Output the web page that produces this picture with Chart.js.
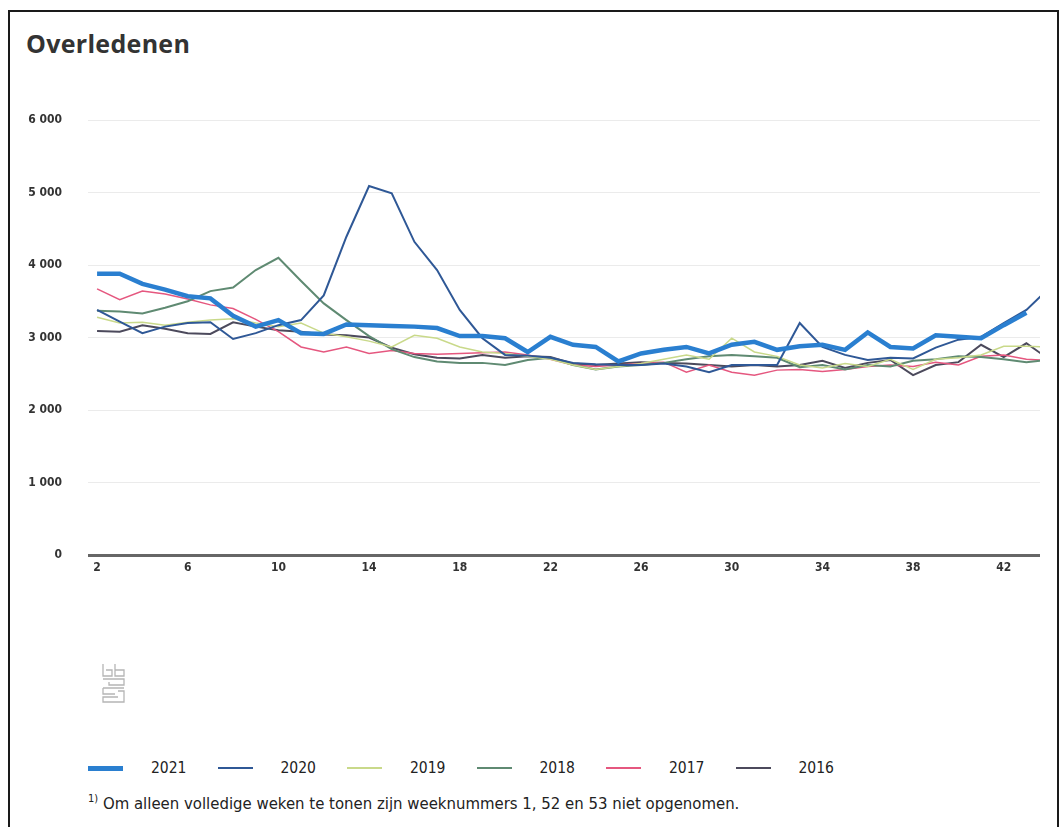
<!DOCTYPE html>
<html>
<head>
<meta charset="utf-8">
<script src="https://cdn.jsdelivr.net/npm/chart.js@4/dist/chart.umd.min.js"></script>
<style>
    html, body {
        margin: 0;
        padding: 0;
        background: #fff;
        width: 1062px;
        height: 827px;
        overflow: hidden;
    }
    #frame {
        position: absolute;
        left: 8px;
        top: 10px;
        width: 1047px;
        height: 840px;
        border: 2px solid #1a1a1a;
    }
    #title {
        position: absolute;
        left: 26px;
        top: 26px;
        font-family: "Open Sans", sans-serif;
        font-weight: 700;
        font-size: 25px;
        color: #333;
        letter-spacing: 0.3px;
    }
    #wrap {
        position: absolute;
        left: 0;
        top: 0;
        width: 1062px;
        height: 600px;
    }
    #logo {
        position: absolute;
        left: 100px;
        top: 662px;
    }
    #legend .item {
        position: absolute;
        top: 758px;
        height: 20px;
        display: flex;
        align-items: center;
        font-family: "DejaVu Sans Condensed", sans-serif;
        font-size: 15.5px;
        color: #222;
    }
    #legend .swatch {
        width: 35px;
        margin-right: 28px;
    }
    #note {
        position: absolute;
        left: 88px;
        top: 792px;
        font-family: "DejaVu Sans Condensed", sans-serif;
        font-size: 16.6px;
        color: #222;
        white-space: nowrap;
    }
    #note sup {
        font-size: 11px;
    }
</style>
</head>
<body>
<div id="frame"></div>
<div id="title">Overledenen</div>
<div id="wrap"><canvas id="deathsChart"></canvas></div>
<svg id="logo" width="30" height="42" viewBox="0 0 30 42" fill="none" stroke="#b5b5b5" stroke-width="1.3">
    <path d="M3 2v12h9V8H6M15 2v12h9V8h-9M3 17h21v6H9v-3M3 26h21M3 26v6h12M18 29h6v11H3v-5h15"/>
</svg>
<div id="legend"></div>
<div id="note"><sup>1)</sup> Om alleen volledige weken te tonen zijn weeknummers 1, 52 en 53 niet opgenomen.</div>

<script>
// weeknummers (1, 52 en 53 niet opgenomen)
const weeks = [2, 3, 4, 5, 6, 7, 8, 9, 10, 11, 12, 13, 14, 15, 16, 17, 18, 19, 20, 21, 22,
    23, 24, 25, 26, 27, 28, 29, 30, 31, 32, 33, 34, 35, 36, 37, 38, 39, 40, 41, 42, 43, 44];
const xTicks = [2, 6, 10, 14, 18, 22, 26, 30, 34, 38, 42];
const yTicks = [0, 1000, 2000, 3000, 4000, 5000, 6000];

const years = ["2021", "2020", "2019", "2018", "2017", "2016"];

const deaths2021 = [3880, 3880, 3740, 3660, 3570, 3540, 3300, 3150, 3240, 3060, 3050, 3180, 3170, 3160,
    3150, 3130, 3020, 3020, 2990, 2800, 3010, 2900, 2870, 2670, 2780, 2830, 2870, 2780, 2900, 2940,
    2830, 2880, 2900, 2830, 3070, 2870, 2850, 3030, 3010, 2990, 3170, 3340];
const deaths2020 = [3380, 3220, 3060, 3150, 3200, 3210, 2980, 3060, 3170, 3240, 3580, 4390, 5090, 4990,
    4320, 3930, 3380, 2990, 2760, 2750, 2720, 2650, 2630, 2620, 2620, 2640, 2600, 2520, 2620, 2620,
    2620, 3200, 2870, 2760, 2690, 2720, 2710, 2860, 2970, 3010, 3200, 3380, 3680];
const deaths2019 = [3280, 3200, 3210, 3170, 3210, 3240, 3260, 3200, 3150, 3200, 3060, 3010, 2950, 2870,
    3030, 2990, 2870, 2800, 2780, 2740, 2700, 2620, 2560, 2600, 2640, 2700, 2760, 2700, 2990, 2800,
    2740, 2620, 2580, 2640, 2600, 2700, 2560, 2700, 2720, 2760, 2880, 2880, 2870];
const deaths2018 = [3370, 3360, 3330, 3410, 3500, 3640, 3690, 3930, 4100, 3780, 3470, 3240, 3020, 2840,
    2730, 2670, 2650, 2650, 2620, 2690, 2720, 2620, 2560, 2600, 2620, 2650, 2700, 2740, 2760, 2740,
    2720, 2590, 2620, 2560, 2620, 2600, 2680, 2700, 2740, 2730, 2700, 2660, 2690];
const deaths2017 = [3670, 3520, 3640, 3600, 3530, 3450, 3400, 3250, 3080, 2870, 2800, 2870, 2780, 2820,
    2780, 2770, 2780, 2790, 2800, 2760, 2700, 2620, 2600, 2620, 2640, 2660, 2520, 2620, 2520, 2480,
    2550, 2560, 2530, 2560, 2600, 2620, 2600, 2660, 2620, 2740, 2760, 2700, 2680];
const deaths2016 = [3090, 3080, 3170, 3120, 3060, 3050, 3210, 3150, 3100, 3080, 3040, 3030, 3000, 2860,
    2770, 2720, 2710, 2760, 2720, 2740, 2730, 2640, 2620, 2640, 2660, 2650, 2640, 2620, 2600, 2620,
    2600, 2620, 2680, 2580, 2650, 2690, 2480, 2620, 2660, 2900, 2730, 2920, 2700];

const series = [deaths2021, deaths2020, deaths2019, deaths2018, deaths2017, deaths2016];
const colors = ["#2a7fd0", "#2f5896", "#c9d98a", "#5f8a72", "#e5577f", "#4c4a5c"];
const widths = [4.5, 2, 1.5, 2, 1.5, 2];

const tickFont = { family: "'DejaVu Sans Condensed', sans-serif", size: 12, weight: "bold" };

function formatThousands(value) {
    return value >= 1000 ? Math.floor(value / 1000) + " " + String(value % 1000).padStart(3, "0") : String(value);
}

const datasets = years.map((year, i) => ({
    label: year,
    data: series[i].map((v, j) => ({ x: weeks[j], y: v })),
    borderColor: colors[i],
    backgroundColor: colors[i],
    borderWidth: widths[i],
    pointRadius: 0,
    tension: 0,
    fill: false,
}));

new Chart(document.getElementById("deathsChart"), {
    type: "line",
    data: { datasets },
    options: {
        responsive: true,
        maintainAspectRatio: false,
        animation: false,
        layout: {
            padding: { top: 120, right: 22, bottom: 15, left: 0 },
        },
        plugins: {
            legend: { display: false },
            tooltip: { enabled: false },
        },
        scales: {
            x: {
                type: "linear",
                min: 1.6,
                max: 43.6,
                afterBuildTicks: (axis) => {
                    axis.ticks = xTicks.map((v) => ({ value: v }));
                },
                afterFit: (axis) => {
                    axis.height = 30;
                },
                grid: { display: false, drawTicks: false },
                border: { display: false },
                ticks: {
                    color: "#333",
                    font: tickFont,
                    padding: 6,
                    maxRotation: 0,
                    autoSkip: false,
                },
            },
            y: {
                min: 0,
                max: 6000,
                afterBuildTicks: (axis) => {
                    axis.ticks = yTicks.map((v) => ({ value: v }));
                },
                afterFit: (axis) => {
                    axis.width = 88;
                },
                grid: {
                    drawTicks: false,
                    color: (ctx) => (ctx.tick && ctx.tick.value === 0 ? "#666" : "#ebebeb"),
                    lineWidth: (ctx) => (ctx.tick && ctx.tick.value === 0 ? 3 : 1),
                },
                border: { display: false },
                ticks: {
                    color: "#333",
                    font: tickFont,
                    padding: 26,
                    callback: (value) => formatThousands(value),
                },
            },
        },
    },
});

// legenda onder de grafiek
const legend = document.getElementById("legend");
years.forEach((year, i) => {
    const item = document.createElement("div");
    item.className = "item";
    item.style.left = 88 + i * 129.5 + "px";
    const swatch = document.createElement("span");
    swatch.className = "swatch";
    swatch.style.height = Math.max(2, Math.round(widths[i])) + "px";
    swatch.style.background = colors[i];
    item.appendChild(swatch);
    item.appendChild(document.createTextNode(year));
    legend.appendChild(item);
});
</script>
</body>
</html>
